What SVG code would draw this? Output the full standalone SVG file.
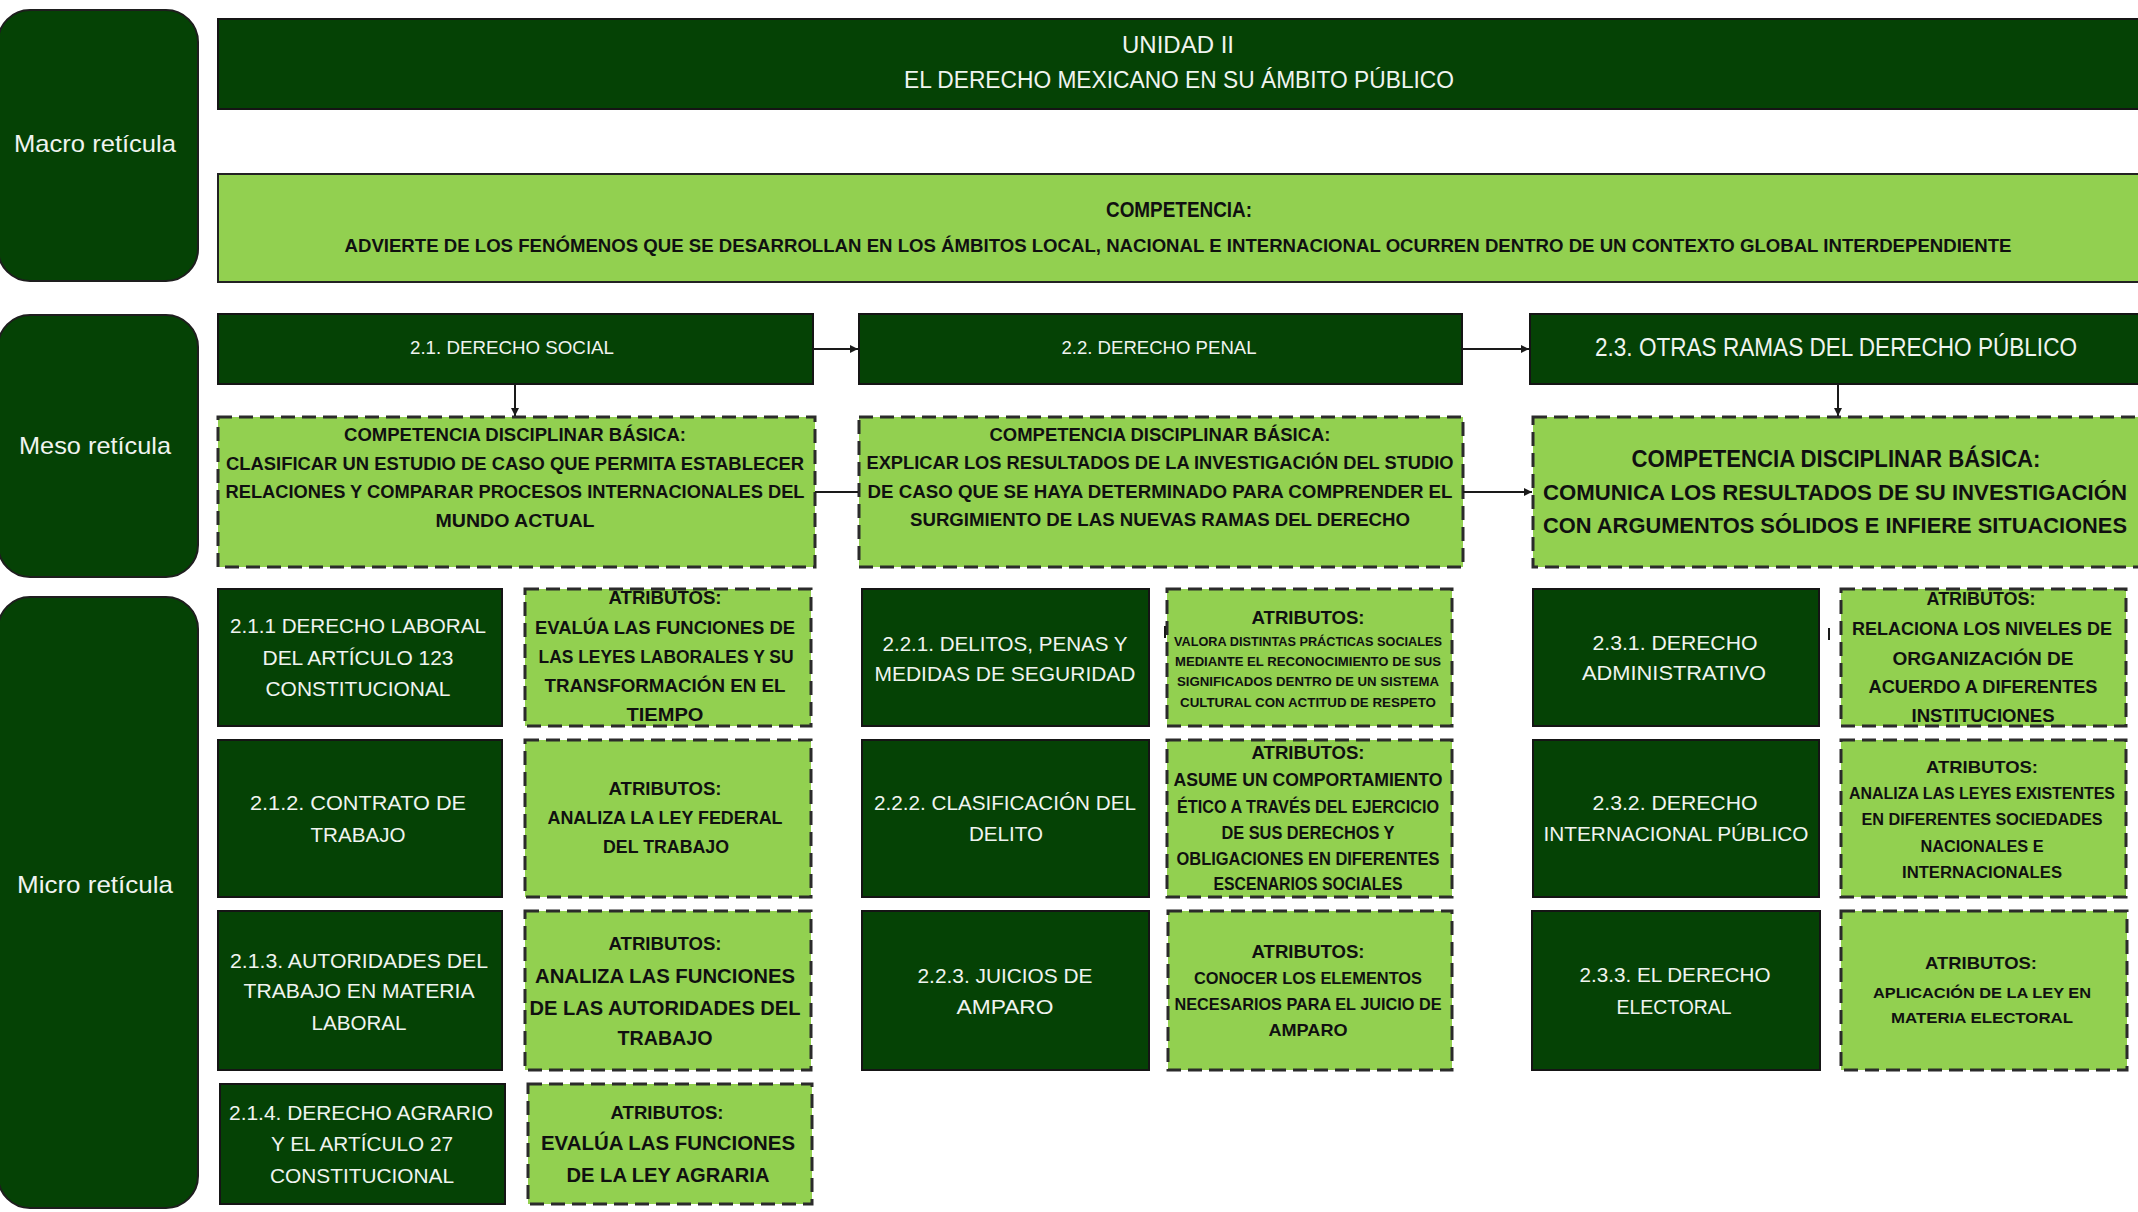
<svg xmlns="http://www.w3.org/2000/svg" width="2138" height="1212" viewBox="0 0 2138 1212">
<style>
.dk{fill:#054205;stroke:#151515;stroke-width:2}
.lt{fill:#92d050;stroke:#2b2b2b;stroke-width:3;stroke-dasharray:14 7}
.lab{fill:#054205;stroke:#1e1e1e;stroke-width:2}
text{font-family:"Liberation Sans",Arial,sans-serif;text-anchor:middle;dominant-baseline:central}
.w{fill:#f0f4f0}
.k{fill:#101010;font-weight:bold}
.cn{fill:none;stroke:#1a1a1a;stroke-width:2}
</style>
<defs>
<marker id="ar" markerWidth="10" markerHeight="10" refX="9" refY="5" orient="auto" markerUnits="userSpaceOnUse">
<path d="M1,1 L9,5 L1,9 Z" fill="#1a1a1a"/>
</marker>
</defs>
<rect width="2138" height="1212" fill="#ffffff"/>

<g id="macro-label"><rect class="lab" x="-2" y="10" width="200" height="271" rx="32"/><text class="w" x="95" y="143" font-size="24" textLength="162" lengthAdjust="spacingAndGlyphs">Macro retícula</text></g>
<g id="meso-label"><rect class="lab" x="-2" y="315" width="200" height="262" rx="32"/><text class="w" x="95" y="445" font-size="24" textLength="152" lengthAdjust="spacingAndGlyphs">Meso retícula</text></g>
<g id="micro-label"><rect class="lab" x="-2" y="597" width="200" height="611" rx="32"/><text class="w" x="95" y="884" font-size="24" textLength="156" lengthAdjust="spacingAndGlyphs">Micro retícula</text></g>

<g id="unidad"><rect class="dk" x="218" y="19" width="1925" height="90"/>
<text class="w" x="1178" y="45" font-size="23" textLength="112" lengthAdjust="spacingAndGlyphs">UNIDAD II</text>
<text class="w" x="1179" y="80" font-size="23" textLength="550" lengthAdjust="spacingAndGlyphs">EL DERECHO MEXICANO EN SU ÁMBITO PÚBLICO</text></g>

<g id="competencia"><rect x="218" y="174" width="1925" height="108" fill="#92d050" stroke="#222" stroke-width="2"/>
<text class="k" x="1179" y="209" font-size="22" textLength="146" lengthAdjust="spacingAndGlyphs">COMPETENCIA:</text>
<text class="k" x="1178" y="245" font-size="19" textLength="1667" lengthAdjust="spacingAndGlyphs">ADVIERTE DE LOS FENÓMENOS QUE SE DESARROLLAN EN LOS ÁMBITOS LOCAL, NACIONAL E INTERNACIONAL OCURREN DENTRO DE UN CONTEXTO GLOBAL INTERDEPENDIENTE</text></g>

<g id="n21"><rect class="dk" x="218" y="314" width="595" height="70"/><text class="w" x="512" y="348" font-size="18" textLength="204" lengthAdjust="spacingAndGlyphs">2.1. DERECHO SOCIAL</text></g>
<g id="n22"><rect class="dk" x="859" y="314" width="603" height="70"/><text class="w" x="1159" y="348" font-size="18" textLength="195" lengthAdjust="spacingAndGlyphs">2.2. DERECHO PENAL</text></g>
<g id="n23"><rect class="dk" x="1530" y="314" width="612" height="70"/><text class="w" x="1836" y="347" font-size="25" textLength="482" lengthAdjust="spacingAndGlyphs">2.3. OTRAS RAMAS DEL DERECHO PÚBLICO</text></g>

<g id="cdb1"><rect class="lt" x="218" y="417" width="597" height="150"/>
<text class="k" x="515" y="435" font-size="18" textLength="342" lengthAdjust="spacingAndGlyphs">COMPETENCIA DISCIPLINAR BÁSICA:</text>
<text class="k" x="515" y="464" font-size="18" textLength="578" lengthAdjust="spacingAndGlyphs">CLASIFICAR UN ESTUDIO DE CASO QUE PERMITA ESTABLECER</text>
<text class="k" x="515" y="492" font-size="18" textLength="579" lengthAdjust="spacingAndGlyphs">RELACIONES Y COMPARAR PROCESOS INTERNACIONALES DEL</text>
<text class="k" x="515" y="521" font-size="18" textLength="159" lengthAdjust="spacingAndGlyphs">MUNDO ACTUAL</text></g>
<g id="cdb2"><rect class="lt" x="859" y="417" width="604" height="150"/>
<text class="k" x="1160" y="435" font-size="18" textLength="341" lengthAdjust="spacingAndGlyphs">COMPETENCIA DISCIPLINAR BÁSICA:</text>
<text class="k" x="1160" y="463" font-size="18" textLength="587" lengthAdjust="spacingAndGlyphs">EXPLICAR LOS RESULTADOS DE LA INVESTIGACIÓN DEL STUDIO</text>
<text class="k" x="1160" y="492" font-size="18" textLength="585" lengthAdjust="spacingAndGlyphs">DE CASO QUE SE HAYA DETERMINADO PARA COMPRENDER EL</text>
<text class="k" x="1160" y="520" font-size="18" textLength="500" lengthAdjust="spacingAndGlyphs">SURGIMIENTO DE LAS NUEVAS RAMAS DEL DERECHO</text></g>
<g id="cdb3"><rect class="lt" x="1533" y="417" width="610" height="150"/>
<text class="k" x="1836" y="458" font-size="24" textLength="409" lengthAdjust="spacingAndGlyphs">COMPETENCIA DISCIPLINAR BÁSICA:</text>
<text class="k" x="1835" y="492" font-size="22" textLength="584" lengthAdjust="spacingAndGlyphs">COMUNICA LOS RESULTADOS DE SU INVESTIGACIÓN</text>
<text class="k" x="1835" y="525" font-size="22" textLength="584" lengthAdjust="spacingAndGlyphs">CON ARGUMENTOS SÓLIDOS E INFIERE SITUACIONES</text></g>

<!-- column 1 -->
<g id="n211"><rect class="dk" x="218" y="589" width="284" height="137"/>
<text class="w" x="358" y="625" font-size="21" textLength="256" lengthAdjust="spacingAndGlyphs">2.1.1 DERECHO LABORAL</text>
<text class="w" x="358" y="657" font-size="21" textLength="191" lengthAdjust="spacingAndGlyphs">DEL ARTÍCULO 123</text>
<text class="w" x="358" y="688" font-size="21" textLength="185" lengthAdjust="spacingAndGlyphs">CONSTITUCIONAL</text></g>
<g id="a211"><rect class="lt" x="525" y="589" width="286" height="137"/>
<text class="k" x="665" y="598" font-size="18" textLength="113" lengthAdjust="spacingAndGlyphs">ATRIBUTOS:</text>
<text class="k" x="665" y="628" font-size="18" textLength="260" lengthAdjust="spacingAndGlyphs">EVALÚA LAS FUNCIONES DE</text>
<text class="k" x="666" y="657" font-size="18" textLength="255" lengthAdjust="spacingAndGlyphs">LAS LEYES LABORALES Y SU</text>
<text class="k" x="665" y="686" font-size="18" textLength="241" lengthAdjust="spacingAndGlyphs">TRANSFORMACIÓN EN EL</text>
<text class="k" x="665" y="715" font-size="18" textLength="77" lengthAdjust="spacingAndGlyphs">TIEMPO</text></g>

<g id="n212"><rect class="dk" x="218" y="740" width="284" height="157"/>
<text class="w" x="358" y="802" font-size="21" textLength="216" lengthAdjust="spacingAndGlyphs">2.1.2. CONTRATO DE</text>
<text class="w" x="358" y="834" font-size="21" textLength="95" lengthAdjust="spacingAndGlyphs">TRABAJO</text></g>
<g id="a212"><rect class="lt" x="525" y="740" width="286" height="157"/>
<text class="k" x="665" y="789" font-size="18" textLength="113" lengthAdjust="spacingAndGlyphs">ATRIBUTOS:</text>
<text class="k" x="665" y="818" font-size="18" textLength="235" lengthAdjust="spacingAndGlyphs">ANALIZA LA LEY FEDERAL</text>
<text class="k" x="666" y="847" font-size="18" textLength="126" lengthAdjust="spacingAndGlyphs">DEL TRABAJO</text></g>

<g id="n213"><rect class="dk" x="218" y="911" width="284" height="159"/>
<text class="w" x="359" y="960" font-size="21" textLength="258" lengthAdjust="spacingAndGlyphs">2.1.3. AUTORIDADES DEL</text>
<text class="w" x="359" y="990" font-size="21" textLength="231" lengthAdjust="spacingAndGlyphs">TRABAJO EN MATERIA</text>
<text class="w" x="359" y="1022" font-size="21" textLength="95" lengthAdjust="spacingAndGlyphs">LABORAL</text></g>
<g id="a213"><rect class="lt" x="525" y="911" width="286" height="159"/>
<text class="k" x="665" y="943" font-size="19" textLength="113" lengthAdjust="spacingAndGlyphs">ATRIBUTOS:</text>
<text class="k" x="665" y="975" font-size="21" textLength="260" lengthAdjust="spacingAndGlyphs">ANALIZA LAS FUNCIONES</text>
<text class="k" x="665" y="1007" font-size="21" textLength="271" lengthAdjust="spacingAndGlyphs">DE LAS AUTORIDADES DEL</text>
<text class="k" x="665" y="1037" font-size="21" textLength="95" lengthAdjust="spacingAndGlyphs">TRABAJO</text></g>

<g id="n214"><rect class="dk" x="220" y="1084" width="285" height="120"/>
<text class="w" x="361" y="1112" font-size="21" textLength="264" lengthAdjust="spacingAndGlyphs">2.1.4. DERECHO AGRARIO</text>
<text class="w" x="362" y="1143" font-size="21" textLength="182" lengthAdjust="spacingAndGlyphs">Y EL ARTÍCULO 27</text>
<text class="w" x="362" y="1175" font-size="21" textLength="184" lengthAdjust="spacingAndGlyphs">CONSTITUCIONAL</text></g>
<g id="a214"><rect class="lt" x="528" y="1084" width="284" height="120"/>
<text class="k" x="667" y="1112" font-size="19" textLength="113" lengthAdjust="spacingAndGlyphs">ATRIBUTOS:</text>
<text class="k" x="668" y="1142" font-size="21" textLength="254" lengthAdjust="spacingAndGlyphs">EVALÚA LAS FUNCIONES</text>
<text class="k" x="668" y="1174" font-size="21" textLength="203" lengthAdjust="spacingAndGlyphs">DE LA LEY AGRARIA</text></g>

<!-- column 2 -->
<g id="n221"><rect class="dk" x="862" y="589" width="287" height="137"/>
<text class="w" x="1005" y="643" font-size="21" textLength="245" lengthAdjust="spacingAndGlyphs">2.2.1. DELITOS, PENAS Y</text>
<text class="w" x="1005" y="673" font-size="21" textLength="261" lengthAdjust="spacingAndGlyphs">MEDIDAS DE SEGURIDAD</text></g>
<g id="a221"><rect class="lt" x="1167" y="589" width="285" height="137"/>
<text class="k" x="1308" y="617" font-size="19" textLength="113" lengthAdjust="spacingAndGlyphs">ATRIBUTOS:</text>
<text class="k" x="1308" y="642" font-size="12" textLength="268" lengthAdjust="spacingAndGlyphs">VALORA DISTINTAS PRÁCTICAS SOCIALES</text>
<text class="k" x="1308" y="662" font-size="12" textLength="266" lengthAdjust="spacingAndGlyphs">MEDIANTE EL RECONOCIMIENTO DE SUS</text>
<text class="k" x="1308" y="682" font-size="12" textLength="262" lengthAdjust="spacingAndGlyphs">SIGNIFICADOS DENTRO DE UN SISTEMA</text>
<text class="k" x="1308" y="703" font-size="12" textLength="256" lengthAdjust="spacingAndGlyphs">CULTURAL CON  ACTITUD DE RESPETO</text></g>

<g id="n222"><rect class="dk" x="862" y="740" width="287" height="157"/>
<text class="w" x="1005" y="802" font-size="21" textLength="262" lengthAdjust="spacingAndGlyphs">2.2.2. CLASIFICACIÓN DEL</text>
<text class="w" x="1006" y="833" font-size="21" textLength="74" lengthAdjust="spacingAndGlyphs">DELITO</text></g>
<g id="a222"><rect class="lt" x="1167" y="740" width="285" height="157"/>
<text class="k" x="1308" y="753" font-size="18" textLength="113" lengthAdjust="spacingAndGlyphs">ATRIBUTOS:</text>
<text class="k" x="1308" y="780" font-size="18" textLength="269" lengthAdjust="spacingAndGlyphs">ASUME UN COMPORTAMIENTO</text>
<text class="k" x="1308" y="807" font-size="18" textLength="262" lengthAdjust="spacingAndGlyphs">ÉTICO A TRAVÉS DEL EJERCICIO</text>
<text class="k" x="1308" y="833" font-size="18" textLength="173" lengthAdjust="spacingAndGlyphs">DE SUS DERECHOS Y</text>
<text class="k" x="1308" y="859" font-size="18" textLength="263" lengthAdjust="spacingAndGlyphs">OBLIGACIONES EN DIFERENTES</text>
<text class="k" x="1308" y="884" font-size="18" textLength="189" lengthAdjust="spacingAndGlyphs">ESCENARIOS SOCIALES</text></g>

<g id="n223"><rect class="dk" x="862" y="911" width="287" height="159"/>
<text class="w" x="1005" y="975" font-size="21" textLength="175" lengthAdjust="spacingAndGlyphs">2.2.3. JUICIOS DE</text>
<text class="w" x="1005" y="1006" font-size="21" textLength="97" lengthAdjust="spacingAndGlyphs">AMPARO</text></g>
<g id="a223"><rect class="lt" x="1168" y="911" width="284" height="159"/>
<text class="k" x="1308" y="952" font-size="18" textLength="113" lengthAdjust="spacingAndGlyphs">ATRIBUTOS:</text>
<text class="k" x="1308" y="978" font-size="17" textLength="228" lengthAdjust="spacingAndGlyphs">CONOCER LOS ELEMENTOS</text>
<text class="k" x="1308" y="1004" font-size="17" textLength="267" lengthAdjust="spacingAndGlyphs">NECESARIOS PARA EL JUICIO DE</text>
<text class="k" x="1308" y="1030" font-size="17" textLength="79" lengthAdjust="spacingAndGlyphs">AMPARO</text></g>

<!-- column 3 -->
<g id="n231"><rect class="dk" x="1533" y="589" width="286" height="137"/>
<text class="w" x="1675" y="642" font-size="21" textLength="165" lengthAdjust="spacingAndGlyphs">2.3.1. DERECHO</text>
<text class="w" x="1674" y="672" font-size="21" textLength="184" lengthAdjust="spacingAndGlyphs">ADMINISTRATIVO</text></g>
<g id="a231"><rect class="lt" x="1841" y="589" width="285" height="137"/>
<text class="k" x="1981" y="598" font-size="19" textLength="109" lengthAdjust="spacingAndGlyphs">ATRIBUTOS:</text>
<text class="k" x="1982" y="628" font-size="19" textLength="260" lengthAdjust="spacingAndGlyphs">RELACIONA LOS NIVELES DE</text>
<text class="k" x="1983" y="658" font-size="19" textLength="181" lengthAdjust="spacingAndGlyphs">ORGANIZACIÓN DE</text>
<text class="k" x="1983" y="686" font-size="19" textLength="229" lengthAdjust="spacingAndGlyphs">ACUERDO A DIFERENTES</text>
<text class="k" x="1983" y="715" font-size="19" textLength="143" lengthAdjust="spacingAndGlyphs">INSTITUCIONES</text></g>

<g id="n232"><rect class="dk" x="1533" y="740" width="286" height="157"/>
<text class="w" x="1675" y="802" font-size="21" textLength="165" lengthAdjust="spacingAndGlyphs">2.3.2. DERECHO</text>
<text class="w" x="1676" y="833" font-size="21" textLength="265" lengthAdjust="spacingAndGlyphs">INTERNACIONAL PÚBLICO</text></g>
<g id="a232"><rect class="lt" x="1841" y="740" width="285" height="157"/>
<text class="k" x="1982" y="767" font-size="17" textLength="112" lengthAdjust="spacingAndGlyphs">ATRIBUTOS:</text>
<text class="k" x="1982" y="793" font-size="16" textLength="266" lengthAdjust="spacingAndGlyphs">ANALIZA LAS LEYES EXISTENTES</text>
<text class="k" x="1982" y="819" font-size="16" textLength="241" lengthAdjust="spacingAndGlyphs">EN DIFERENTES SOCIEDADES</text>
<text class="k" x="1982" y="846" font-size="16" textLength="123" lengthAdjust="spacingAndGlyphs">NACIONALES E</text>
<text class="k" x="1982" y="872" font-size="16" textLength="160" lengthAdjust="spacingAndGlyphs">INTERNACIONALES</text></g>

<g id="n233"><rect class="dk" x="1532" y="911" width="288" height="159"/>
<text class="w" x="1675" y="974" font-size="21" textLength="191" lengthAdjust="spacingAndGlyphs">2.3.3. EL DERECHO</text>
<text class="w" x="1674" y="1006" font-size="21" textLength="115" lengthAdjust="spacingAndGlyphs">ELECTORAL</text></g>
<g id="a233"><rect class="lt" x="1841" y="911" width="286" height="159"/>
<text class="k" x="1981" y="963" font-size="17" textLength="112" lengthAdjust="spacingAndGlyphs">ATRIBUTOS:</text>
<text class="k" x="1982" y="992" font-size="15" textLength="218" lengthAdjust="spacingAndGlyphs">APLICACIÓN DE LA LEY EN</text>
<text class="k" x="1982" y="1017" font-size="15" textLength="182" lengthAdjust="spacingAndGlyphs">MATERIA ELECTORAL</text></g>

<g id="connectors">
<path class="cn" d="M813,349 H858" marker-end="url(#ar)"/>
<path class="cn" d="M1462,349 H1529" marker-end="url(#ar)"/>
<path class="cn" d="M515,384 V416" marker-end="url(#ar)"/>
<path class="cn" d="M1838,384 V416" marker-end="url(#ar)"/>
<path class="cn" d="M815,492 H858"/>
<path class="cn" d="M1463,492 H1532" marker-end="url(#ar)"/>
<path class="cn" stroke-width="4" d="M1165,626 V638"/>
<path class="cn" stroke-width="3" d="M1829,628 V640"/>
</g>
</svg>
